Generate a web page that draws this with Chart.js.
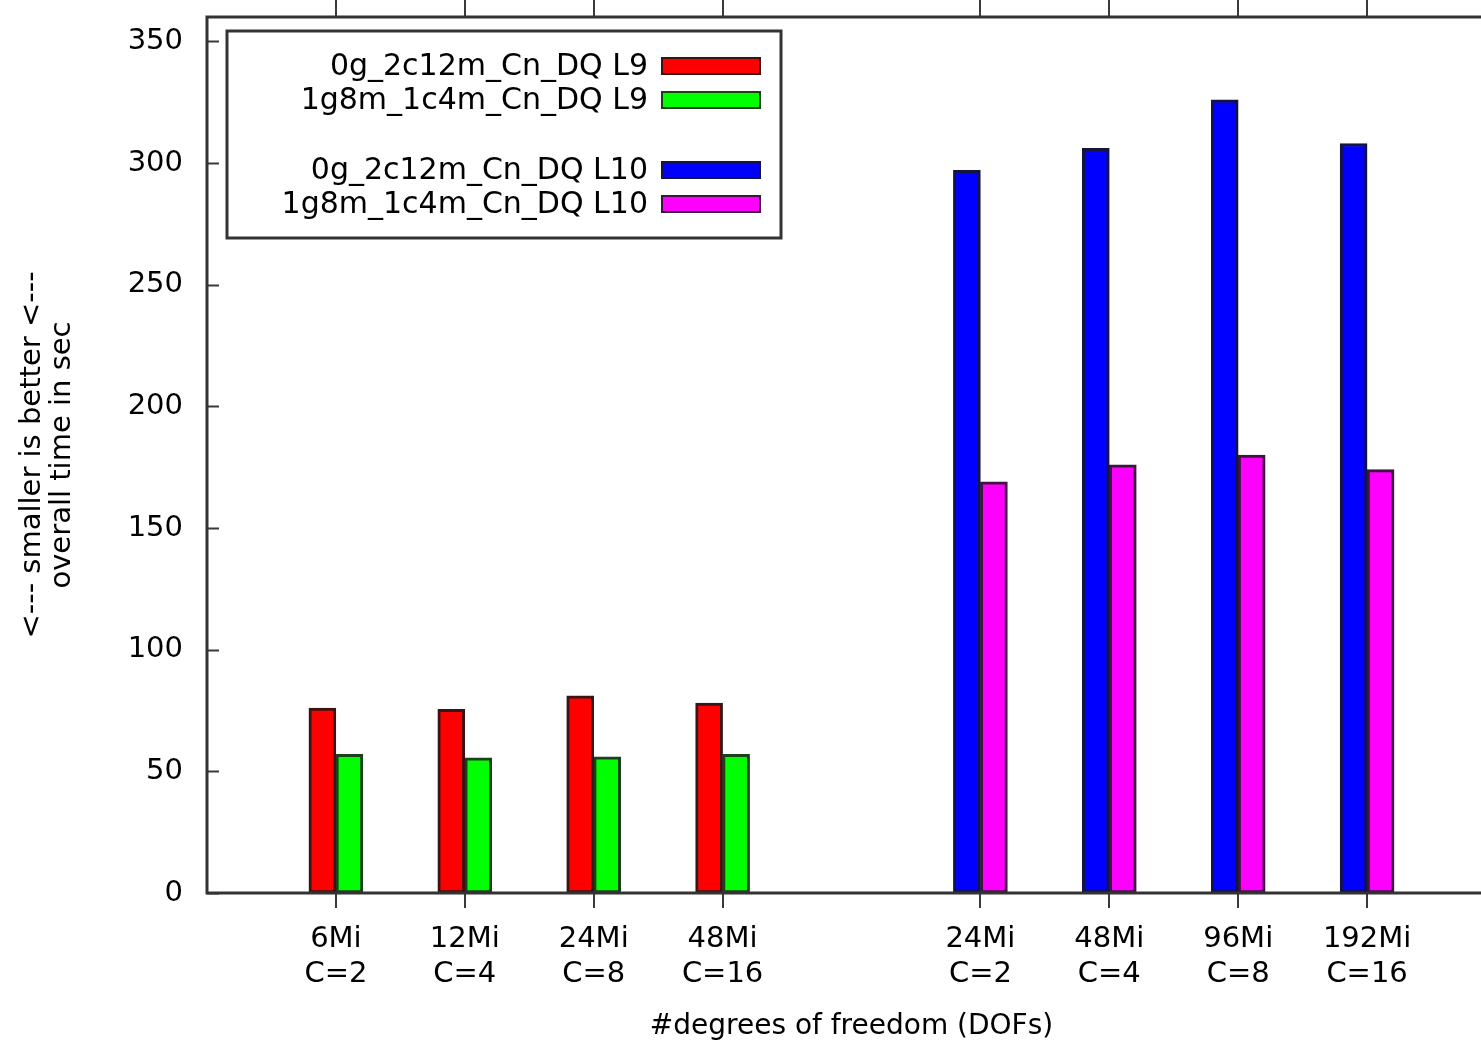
<!DOCTYPE html>
<html>
<head>
<meta charset="utf-8">
<script src="https://cdn.jsdelivr.net/npm/chart.js@4"></script>
<style>
html,body{margin:0;padding:0;background:#fff;overflow:hidden;width:1481px;height:1042px}
#wrap{width:1510px;height:1042px;position:relative}
</style>
</head>
<body>
<div id="wrap"><canvas id="c" width="1510" height="1042"></canvas></div>
<script>
// ---- data ----
const categories = ['', ['6Mi','C=2'], ['12Mi','C=4'], ['24Mi','C=8'], ['48Mi','C=16'], '',
                    ['24Mi','C=2'], ['48Mi','C=4'], ['96Mi','C=8'], ['192Mi','C=16'], ''];
const yTickValues = [0, 50, 100, 150, 200, 250, 300, 350];
const seriesLabels = ['0g_2c12m_Cn_DQ L9', '1g8m_1c4m_Cn_DQ L9', '0g_2c12m_Cn_DQ L10', '1g8m_1c4m_Cn_DQ L10'];
const l9_0g   = [null, 76, 75.5, 81, 78, null, null, null, null, null, null];
const l9_1g   = [null, 57, 55.5, 56, 57, null, null, null, null, null, null];
const l10_0g  = [null, null, null, null, null, null, 297, 306, 326, 308, null];
const l10_1g  = [null, null, null, null, null, null, 169, 176, 180, 174, null];
const xTitle = '#degrees of freedom (DOFs)';
const yTitle = ['<--- smaller is better <---', 'overall time in sec'];

const fills   = ['#ff0000', '#00ff00', '#0000ff', '#ff00ff'];
const borders = ['#3a1414', '#1c401c', '#14143f', '#3f143f'];
const FONT = "'DejaVu Sans', 'Noto Sans', sans-serif";

const seriesData = [l9_0g, l9_1g, l10_0g, l10_1g];
const datasets = seriesData.map((d, i) => ({
  label: seriesLabels[i],
  data: d,
  backgroundColor: fills[i],
  borderColor: borders[i],
  borderWidth: 3,
  borderSkipped: false,
  barThickness: 27,
  skipNull: true
}));

const framePlugin = {
  id: 'frame',
  afterDatasetsDraw(chart) {
    const ctx = chart.ctx, ca = chart.chartArea;
    const xs = chart.scales.x, ys = chart.scales.y;
    ctx.save();
    ctx.strokeStyle = '#3a3a3a';
    ctx.lineWidth = 2;
    yTickValues.forEach(v => {
      const y = Math.round(ys.getPixelForValue(v)) + 0.5;
      ctx.beginPath();
      ctx.moveTo(ca.left, y); ctx.lineTo(ca.left + 12, y);
      ctx.moveTo(ca.right, y); ctx.lineTo(ca.right - 12, y);
      ctx.stroke();
    });
    categories.forEach((c, i) => {
      if (c === '') return;
      const x = Math.round(xs.getPixelForValue(i));
      ctx.beginPath();
      ctx.moveTo(x, ca.bottom); ctx.lineTo(x, ca.bottom + 15);
      ctx.moveTo(x, ca.top); ctx.lineTo(x, 0);
      ctx.stroke();
    });
    ctx.lineWidth = 3;
    ctx.strokeStyle = '#333';
    ctx.strokeRect(ca.left, ca.top, ca.right - ca.left, ca.bottom - ca.top);

    const lb = {left: 227, top: 31, right: 781, bottom: 238};
    ctx.fillStyle = '#fff';
    ctx.fillRect(lb.left, lb.top, lb.right - lb.left, lb.bottom - lb.top);
    ctx.lineWidth = 3;
    ctx.strokeStyle = '#333';
    ctx.strokeRect(lb.left, lb.top, lb.right - lb.left, lb.bottom - lb.top);
    const rows = [66, 100, 170, 204];
    ctx.font = "30px " + FONT;
    ctx.textAlign = 'right';
    ctx.textBaseline = 'middle';
    chart.data.datasets.forEach((ds, i) => {
      const yc = rows[i];
      ctx.fillStyle = '#000';
      ctx.fillText(ds.label, 648, yc + 1);
      ctx.fillStyle = ds.backgroundColor;
      ctx.fillRect(662, yc - 8, 98, 16);
      ctx.lineWidth = 2;
      ctx.strokeStyle = ds.borderColor;
      ctx.strokeRect(662, yc - 8, 98, 16);
    });
    ctx.restore();
  }
};

new Chart(document.getElementById('c'), {
  type: 'bar',
  data: { labels: categories, datasets },
  options: {
    responsive: false,
    animation: false,
    devicePixelRatio: 1,
    layout: { padding: { top: 17, right: 14, left: 0, bottom: 0 } },
    plugins: { legend: { display: false }, tooltip: { enabled: false } },
    scales: {
      x: {
        type: 'category',
        offset: false,
        grid: { display: false, drawTicks: false },
        border: { display: false },
        ticks: {
          autoSkip: false, maxRotation: 0, minRotation: 0,
          color: '#000', padding: 29,
          font: { family: FONT, size: 29, lineHeight: 35 / 29 }
        },
        title: {
          display: true, text: xTitle, color: '#000',
          font: { family: FONT, size: 28, lineHeight: 30 / 28 },
          padding: { top: 0, bottom: 0 }
        },
        afterFit(s) { s.height = 149; s.paddingLeft = 0; s.paddingRight = 0; }
      },
      y: {
        min: 0, max: 360,
        grid: { display: false, drawTicks: false },
        border: { display: false },
        afterBuildTicks(s) { s.ticks = yTickValues.map(v => ({ value: v })); },
        ticks: {
          color: '#000', padding: 24,
          font: { family: FONT, size: 29 }
        },
        title: {
          display: true, text: yTitle, color: '#000',
          font: { family: FONT, size: 29, lineHeight: 30 / 29 },
          padding: { top: 17, bottom: 0 }
        },
        afterFit(s) { s.width = 207; s.paddingTop = 0; s.paddingBottom = 0; }
      }
    }
  },
  plugins: [framePlugin]
});
</script>
</body>
</html>
